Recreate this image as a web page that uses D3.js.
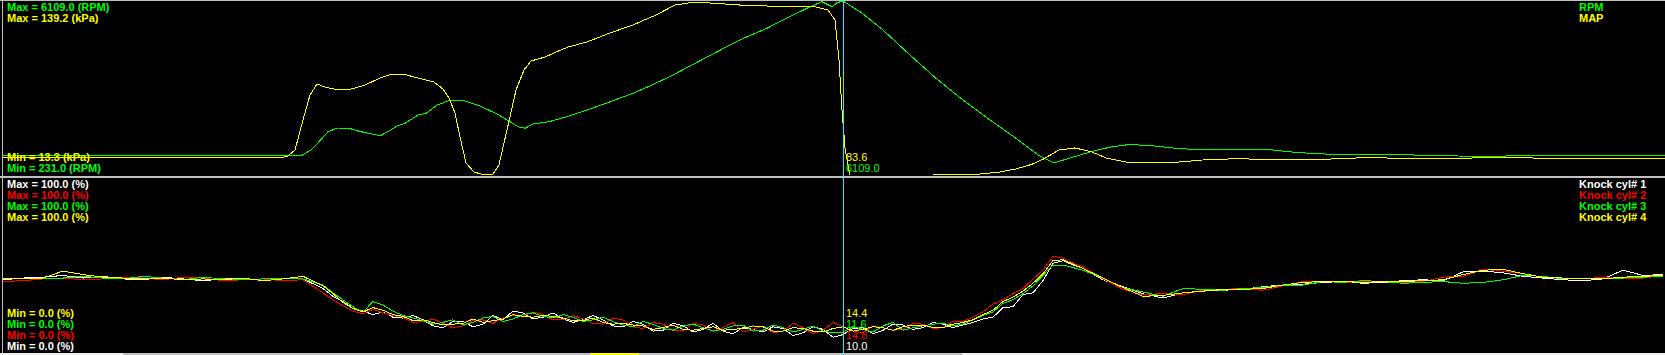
<!DOCTYPE html>
<html lang="en">
<head>
    <meta charset="utf-8">
    <title>Engine log</title>
    <script type="text/javascript" src="https://d3js.org/d3.v7.min.js"></script>
    <style>
        body { margin: 0; background: #000; }
        svg { display: block; }
        text { font-family: "Liberation Sans", Arial, sans-serif; font-size: 11px; }
    </style>
</head>
<body>
<script type="text/javascript">
        var w = 1665;
        var h = 355;

        // top panel: RPM and MAP against time (s)
        var rpmTime = [0, 14.95, 15.4, 15.8, 16.25, 16.75, 17.3, 17.9, 18.85, 19.25, 19.7, 20.1, 20.75, 21.15, 21.7,
            22.3, 22.95, 23.85, 24.8, 25.35, 25.75, 26.1, 26.5, 27.3, 28.2, 29.2, 30.15, 31.5, 32.45, 33.4, 34.35,
            35.3, 36.25, 37.2, 38.2, 39.15, 39.85, 40.35, 40.95, 41.45, 41.7, 42.0, 42.95, 44.0, 45.35, 46.65, 48.0,
            49.35, 50.65, 51.75, 52.55, 53.3, 54.4, 55.45, 56.25, 57.3, 58.65, 60.0, 62.1, 63.2, 64.25, 65.85, 70.35,
            70.65, 72.75, 74.85, 75.45, 83.1];
        var rpmValues = [510, 510, 703, 1004, 1367, 1501, 1490, 1367, 1221, 1367, 1573, 1671, 1972, 2034, 2335,
            2491, 2517, 2299, 1972, 1729, 1548, 1490, 1646, 1729, 1911, 2154, 2397, 2760, 3061, 3387, 3750,
            4113, 4476, 4813, 5118, 5481, 5720, 5902, 6083, 5902, 6047, 6109, 5673, 5056, 4149, 3304, 2517,
            1791, 1127, 521, 231, 402, 641, 822, 895, 873, 764, 703, 703, 728, 641, 558, 547,
            510, 485, 460, 510, 510];

        var mapTime = [0, 14.05, 14.25, 14.6, 15.0, 15.35, 15.7, 16.1, 16.75, 17.4, 18.1, 18.85, 19.45, 20.0, 20.75,
            21.55, 22.0, 22.3, 22.6, 22.85, 23.15, 23.55, 23.9, 24.5, 24.8, 25.05, 25.35, 25.65, 26.05, 26.4,
            27.1, 27.65, 28.25, 29.2, 30.35, 31.5, 32.65, 33.6, 34.35, 35.3, 36.85, 38.2, 39.5, 40.65, 41.25,
            41.6, 41.8, 41.95, 42.1, 42.35, 46.5, 46.55, 48.4, 48.8, 49.85, 50.65, 51.45, 52.0, 52.8, 53.6,
            54.4, 55.2, 56.25, 58.4, 60.0, 61.6, 64.8, 66.4, 67.95, 70.65, 73.3, 76.45, 76.55, 83.1];
        var mapValues = [27.0, 27.0, 27.8, 32.1, 53.8, 71.9, 79.9, 77.7, 75.5, 76.2, 79.1, 84.2, 87.1, 87.1, 84.2,
            81.3, 76.2, 69.7, 58.9, 41.5, 22.7, 16.2, 14.7, 14.7, 21.3, 37.2, 56.0, 75.5, 90.0, 96.5,
            99.4, 103.0, 106.6, 110.3, 116.8, 122.6, 129.8, 137.0, 138.7, 138.5, 137.0, 136.3, 136.3, 135.6, 133.4,
            126.2, 97.2, 61.1, 33.6, 13.3, 13.3, 14.4, 14.4, 14.7, 16.2, 18.4, 21.8, 25.4, 32.1, 33.6,
            30.9, 26.1, 23.2, 22.9, 24.9, 25.8, 24.9, 25.6, 26.5, 26.1, 26.3, 26.8, 25.8, 25.8];

        // bottom panel: knock level per cylinder (%)
        // 1 s samples, 0.5 s between 16 s and 54 s
        var knockTime = d3.range(0, 16).concat(d3.range(16, 54, 0.5), d3.range(54, 84));
        var knock1 = [41.5, 42.5, 43, 44, 42.5, 43.5, 42, 41.5, 43, 42, 41, 42, 42.5, 41, 42.5, 42,
            36.5, 32, 29, 25, 23.5, 21.5, 23, 20, 19.5, 21,
            18.5, 15, 14, 17.5, 17.5, 14.5, 16, 21, 18.5, 23.5,
            22.5, 19, 20, 22.5, 19, 17, 18.5, 21, 18.5, 15,
            14.5, 17.5, 16, 12, 12.5, 16.5, 15, 11.5, 13, 16.5,
            12, 10.5, 14, 13, 11.5, 14.5, 13.5, 9.5, 11, 14.5,
            13, 8.5, 10, 13.5, 14, 10.5, 12.5, 16, 15.5, 13,
            14, 17, 16, 14, 15.5, 17, 19, 20, 25.5, 26,
            33, 34, 41, 51, 52.5, 50,
            48, 41.5, 37.5, 33.5, 31, 34, 35, 35.5, 36, 37.5, 38.5, 39, 40, 40.5, 39.5,
            40, 41, 41.5, 41, 46, 46.5, 45.5, 43.5, 42.5, 41.5, 41, 42, 47, 44, 44.5];
        var knock2 = [40.5, 41, 42, 42.5, 41.5, 42, 43, 42.5, 41.5, 43, 42.5, 41, 41.5, 42, 41, 41.5,
            34, 30, 26.5, 23.5, 22, 24.5, 22.5, 21, 20, 17,
            17.5, 19, 16.5, 14, 15, 18, 18.5, 16.5, 19.5, 21,
            20.5, 23, 21.5, 18.5, 18.5, 21, 19, 16.5, 16, 19.5,
            18.5, 14.5, 13.5, 17, 16, 12.5, 12, 16.5, 15.5, 12,
            14, 17, 11.5, 13, 15, 11, 12, 16.5, 14, 10.5,
            12.5, 17, 14.5, 12, 11, 15, 14, 12.5, 13, 16.5,
            16, 13.5, 14, 17.5, 17.5, 20, 23, 27.5, 30, 33.5,
            36.5, 42, 47, 55, 54, 51,
            49, 42, 36, 33, 33.5, 33, 35.5, 36, 36.5, 35.5, 38, 40.5, 40.5, 40, 40.5,
            40.5, 40, 40.5, 43, 43.5, 47.5, 46.5, 45, 43, 42.5, 42, 43, 42, 42.5, 44];
        var knock3 = [42, 42.5, 42, 42.5, 43.5, 42.5, 42, 43.5, 42.5, 41.5, 43, 42, 41.5, 42, 42.5, 42,
            38.5, 34, 30, 26, 23, 29, 27, 23.5, 21, 19.5,
            18, 16, 17, 18.5, 15.5, 17, 19.5, 20.5, 17.5, 19,
            21.5, 22.5, 20.5, 19.5, 21.5, 20, 17.5, 18.5, 20, 17.5,
            15.5, 14.5, 17.5, 16, 13.5, 12.5, 15, 16, 14, 12,
            13, 15, 15.5, 12, 12.5, 15.5, 14, 11.5, 13, 15,
            12, 11, 11.5, 14.5, 13, 11.5, 15, 17, 12.5, 14,
            15, 16, 16.5, 15, 16, 18.5, 21, 23, 28, 30,
            33.5, 38, 44, 50, 50, 48.5,
            47, 42.5, 37, 34.5, 32, 36.5, 36, 35.5, 36.5, 37, 38.5, 38.5, 40.5, 40, 41,
            40.5, 39.5, 40, 40.5, 39.5, 40, 41.5, 44, 43.5, 42, 42.5, 42, 42.5, 43, 43.5];
        var knock4 = [42, 42.5, 42.5, 46.5, 44.5, 43, 42.5, 42, 42.5, 41.5, 42, 41.5, 42.5, 41, 42, 43.5,
            38, 33.5, 28.5, 25, 23, 25.5, 24, 21.5, 20.5, 18,
            18.5, 17, 15.5, 16, 16.5, 19, 17, 18, 19, 21.5,
            20.5, 20, 21, 20.5, 19.5, 18, 18, 19.5, 17, 16,
            16.5, 15.5, 15, 13, 14, 15.5, 13, 12.5, 13.5, 14.5,
            12.5, 13, 13.5, 15, 14.5, 12, 12, 14, 13.5, 12,
            11.5, 13.5, 14.5, 12, 13, 14.5, 14, 12.5, 14.5, 15.5,
            15.5, 14, 14, 16, 17, 18.5, 21.5, 24, 29, 31.5,
            35, 39.5, 45, 52.5, 53, 50.5,
            48, 42.5, 37, 32, 32.5, 34, 35, 36, 36, 36.5, 38.5, 40, 40.5, 40.5, 40,
            40.5, 40.5, 41, 41.5, 44.5, 47, 47.5, 45, 43, 42.5, 42.5, 42, 43, 43.5, 44];

        var cursorTime = 41.975;

        var topMaxLabels = ["Max = 6109.0 (RPM)", "Max = 139.2 (kPa)"];
        var topMinLabels = ["Min = 13.3 (kPa)", "Min = 231.0 (RPM)"];
        var topLegend = ["RPM", "MAP"];
        var topCursor = ["83.6", "6109.0"];

        var knockMaxLabels = ["Max = 100.0 (%)", "Max = 100.0 (%)", "Max = 100.0 (%)", "Max = 100.0 (%)"];
        var knockMinLabels = ["Min = 0.0 (%)", "Min = 0.0 (%)", "Min = 0.0 (%)", "Min = 0.0 (%)"];
        var knockLegend = ["Knock cyl# 1", "Knock cyl# 2", "Knock cyl# 3", "Knock cyl# 4"];
        var knockCursor = ["14.4", "11.6", "14.8", "10.0"];

        var GREEN = "#00ff00", YELLOW = "#ffff00", RED = "#ff0000", WHITE = "#ffffff";
        var knockColors = [WHITE, RED, GREEN, YELLOW];

        var svg = d3.select("body")
        .append("svg")
        .attr("width", w)
        .attr("height", h);

        svg.append("rect").attr("width", w).attr("height", h).attr("fill", "#000");

        var defs = svg.append("defs");
        defs.append("clipPath").attr("id", "clipTop")
            .append("rect").attr("x", 3).attr("y", 1).attr("width", w - 3).attr("height", 174);
        defs.append("clipPath").attr("id", "clipBottom")
            .append("rect").attr("x", 3).attr("y", 178).attr("width", w - 3).attr("height", 175);

        var x = d3.scaleLinear().domain([0, 83.1]).range([3, w]);
        var yRpm = d3.scaleLinear().domain([231, 6109]).range([163, 1]);
        var yMap = d3.scaleLinear().domain([13.3, 139.2]).range([176, 2]);
        var yKnock = d3.scaleLinear().domain([0, 100]).range([352, 178]);

        function drawSeries(g, times, values, yScale, color) {
            var pts = times.map(function(t, i) { return [t, values[i]]; });
            var line = d3.line()
                .x(function(d) { return x(d[0]); })
                .y(function(d) { return yScale(d[1]); });
            g.append("path")
            .attr("d", line(pts))
            .attr("fill", "none")
            .attr("stroke", color)
            .attr("stroke-width", 1)
            .attr("shape-rendering", "crispEdges");
        }

        var topG = svg.append("g").attr("clip-path", "url(#clipTop)");
        drawSeries(topG, rpmTime, rpmValues, yRpm, GREEN);
        drawSeries(topG, mapTime, mapValues, yMap, YELLOW);

        var botG = svg.append("g").attr("clip-path", "url(#clipBottom)");
        var knockSeries = [knock1, knock2, knock3, knock4];
        for(var j = 0; j < knockSeries.length; j++) {
            drawSeries(botG, knockTime, knockSeries[j], yKnock, knockColors[j]);
        }

        // frame and panel separator
        svg.append("rect").attr("x", 0).attr("y", 0).attr("width", w).attr("height", 1).attr("fill", "#c0c0c0");
        svg.append("rect").attr("x", 2).attr("y", 0).attr("width", 1).attr("height", 353).attr("fill", "#c0c0c0");
        svg.append("rect").attr("x", 0).attr("y", 176).attr("width", w).attr("height", 2).attr("fill", "#c0c0c0");

        // scroll strip along the bottom
        svg.append("rect").attr("x", 0).attr("y", 353).attr("width", w).attr("height", 2).attr("fill", "#f0f0f0");
        svg.append("rect").attr("x", 123).attr("y", 353).attr("width", 839).attr("height", 2).attr("fill", "#c0c0c0");
        svg.append("rect").attr("x", 590).attr("y", 353).attr("width", 49).attr("height", 2).attr("fill", YELLOW);

        // cursor
        var cx = Math.round(x(cursorTime)) + 0.5;
        svg.append("line")
        .attr("x1", cx).attr("x2", cx)
        .attr("y1", 0).attr("y2", h)
        .attr("stroke", "#00ffff")
        .attr("stroke-width", 1);

        function labels(list, colors, x0, y0, step, bold) {
            svg.selectAll(null)
            .data(list)
            .enter()
            .append("text")
            .attr("x", x0)
            .attr("y", function(d, i) { return y0 + i * step; })
            .attr("fill", function(d, i) { return colors[i]; })
            .attr("font-weight", bold ? "bold" : "normal")
            .text(function(d) { return d; });
        }

        labels(topMaxLabels, [GREEN, YELLOW], 7, 11, 11, true);
        labels(topMinLabels, [YELLOW, GREEN], 7, 161, 11, true);
        labels(topLegend, [GREEN, YELLOW], 1579, 11, 11, true);
        labels(topCursor, [YELLOW, GREEN], cx + 2.5, 161, 11, false);

        labels(knockMaxLabels, knockColors, 7, 188, 11, true);
        labels(knockMinLabels, knockColors.slice().reverse(), 7, 317, 11, true);
        labels(knockLegend, knockColors, 1579, 188, 11, true);
        labels(knockCursor, [YELLOW, GREEN, RED, WHITE], cx + 2.5, 317, 11, false);
</script>
</body>
</html>
